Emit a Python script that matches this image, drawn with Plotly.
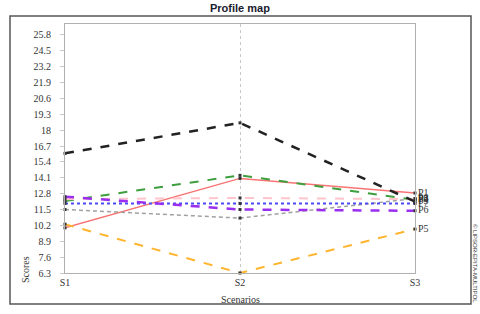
import plotly.graph_objects as go

scenarios = ["S1", "S2", "S3"]
profile_names = ["P1", "P2", "P3", "P4", "P5", "P6", "P7", "P8"]
p1 = [10.0, 14.05, 12.85]
p2 = [12.2, 14.3, 12.3]
p3 = [16.1, 18.6, 12.15]
p4 = [12.35, 12.45, 12.35]
p5 = [10.3, 6.3, 9.9]
p6 = [12.55, 11.5, 11.4]
p7 = [12.0, 12.0, 12.0]
p8 = [11.5, 10.8, 12.4]
series = [p1, p2, p8, p7, p4, p3, p6, p5]
series_names = ["P1", "P2", "P8", "P7", "P4", "P3", "P6", "P5"]
ytick_vals = [6.3, 7.6, 8.9, 10.2, 11.5, 12.8, 14.1, 15.4, 16.7, 18.0, 19.3, 20.6, 21.9, 23.2, 24.5, 25.8]
ytick_text = ["6.3", "7.6", "8.9", "10.2", "11.5", "12.8", "14.1", "15.4", "16.7", "18", "19.3", "20.6", "21.9", "23.2", "24.5", "25.8"]

styles = {
    "P1": dict(color="#f87474", dash="solid", width=1.5),
    "P2": dict(color="#3d9f3d", dash="dash", width=2),
    "P3": dict(color="#222222", dash="dash", width=2.5),
    "P4": dict(color="#ffc4cc", dash="dash", width=2),
    "P5": dict(color="#ffb52e", dash="dash", width=2),
    "P6": dict(color="#9a2ef0", dash="dash", width=2.5),
    "P7": dict(color="#4a4af5", dash="dot", width=2),
    "P8": dict(color="#a0a0a0", dash="4px,3px", width=1.5),
}

fig = go.Figure()
for name, vals in zip(series_names, series):
    fig.add_trace(go.Scatter(
        x=scenarios, y=vals, mode="lines+markers+text", name=name,
        line=styles[name],
        marker=dict(symbol="square", size=3, color="#333333"),
        text=["", "", name], textposition="middle right",
        textfont=dict(family="Liberation Serif", size=10, color="#333333"),
        cliponaxis=False, showlegend=False,
    ))

L, R, T, B = 65, 415, 24, 273
W, H = 480, 314
def px(x):
    return (x - L) / (R - L)
def py(y):
    return (B - y) / (B - T)

fig.update_layout(
    width=W, height=H,
    margin=dict(l=L, r=W - R, t=T, b=H - B, autoexpand=False),
    paper_bgcolor="white", plot_bgcolor="white",
    font=dict(family="Liberation Serif", size=10, color="#333333"),
)
fig.update_xaxes(
    type="category", range=[0, 2], showgrid=True, gridcolor="#c8c8c8", griddash="dot", gridwidth=1,
    showline=True, mirror=True, linecolor="#b0b0b0", linewidth=1,
    ticks="", tickfont=dict(family="Liberation Serif", size=10, color="#333"),
    zeroline=False, automargin=False,
)
fig.update_yaxes(
    range=[6.3, 26.7], tickvals=ytick_vals, ticktext=ytick_text, showgrid=False,
    showline=True, mirror=True, linecolor="#b0b0b0", linewidth=1,
    ticks="outside", ticklen=4, tickcolor="#c8c8c8", ticklabelstandoff=7,
    tickfont=dict(family="Liberation Serif", size=10, color="#333"),
    zeroline=False, automargin=False,
)

fig.add_shape(type="rect", xref="paper", yref="paper",
              x0=px(10), x1=px(471), y0=py(304), y1=py(16),
              line=dict(color="#555555", width=1.5), layer="below")

ann = dict(xref="paper", yref="paper", showarrow=False, xanchor="center", yanchor="middle")
fig.add_annotation(text="<b>Profile map</b>", x=px(240), y=py(8),
                   font=dict(family="Liberation Sans", size=11, color="#1a1a2e"), **ann)
fig.add_annotation(text="Scenarios", x=px(240), y=py(299),
                   font=dict(family="Liberation Serif", size=10, color="#333"), **ann)
fig.add_annotation(text="Scores", x=px(25), y=py(270), textangle=-90,
                   font=dict(family="Liberation Serif", size=10, color="#333"), **ann)
fig.add_annotation(text="© LIPSOR-EPITA-MULTIPOL", x=px(475), y=py(263), textangle=90,
                   font=dict(family="Liberation Sans", size=6, color="#333"), **ann)

fig.write_html("out.html", config={"displayModeBar": False},
               post_script="document.body.style.margin='0';document.body.style.padding='0';")
